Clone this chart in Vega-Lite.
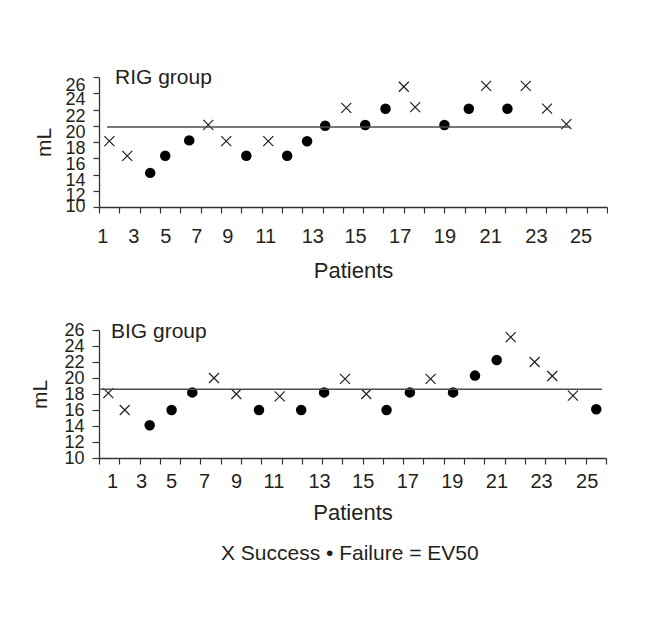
{
  "$schema": "https://vega.github.io/schema/vega-lite/v6.json",
  "padding": {"left": 29, "top": 67, "right": 0, "bottom": 0},
  "autosize": {"type": "pad"},
  "background": "white",
  "datasets": {
    "points": [
      {"group": "RIG", "pos": 0.51, "ml": 18.1, "outcome": "Success"},
      {"group": "RIG", "pos": 1.39, "ml": 16.3, "outcome": "Success"},
      {"group": "RIG", "pos": 2.52, "ml": 14.2, "outcome": "Failure"},
      {"group": "RIG", "pos": 3.26, "ml": 16.3, "outcome": "Failure"},
      {"group": "RIG", "pos": 4.44, "ml": 18.2, "outcome": "Failure"},
      {"group": "RIG", "pos": 5.38, "ml": 20.1, "outcome": "Success"},
      {"group": "RIG", "pos": 6.26, "ml": 18.1, "outcome": "Success"},
      {"group": "RIG", "pos": 7.25, "ml": 16.3, "outcome": "Failure"},
      {"group": "RIG", "pos": 8.33, "ml": 18.1, "outcome": "Success"},
      {"group": "RIG", "pos": 9.26, "ml": 16.3, "outcome": "Failure"},
      {"group": "RIG", "pos": 10.24, "ml": 18.1, "outcome": "Failure"},
      {"group": "RIG", "pos": 11.13, "ml": 20.0, "outcome": "Failure"},
      {"group": "RIG", "pos": 12.17, "ml": 22.2, "outcome": "Success"},
      {"group": "RIG", "pos": 13.1, "ml": 20.1, "outcome": "Failure"},
      {"group": "RIG", "pos": 14.1, "ml": 22.1, "outcome": "Failure"},
      {"group": "RIG", "pos": 15.0, "ml": 24.8, "outcome": "Success"},
      {"group": "RIG", "pos": 15.56, "ml": 22.3, "outcome": "Success"},
      {"group": "RIG", "pos": 17.0, "ml": 20.1, "outcome": "Failure"},
      {"group": "RIG", "pos": 18.2, "ml": 22.1, "outcome": "Failure"},
      {"group": "RIG", "pos": 19.05, "ml": 24.9, "outcome": "Success"},
      {"group": "RIG", "pos": 20.1, "ml": 22.1, "outcome": "Failure"},
      {"group": "RIG", "pos": 21.0, "ml": 24.9, "outcome": "Success"},
      {"group": "RIG", "pos": 22.05, "ml": 22.1, "outcome": "Success"},
      {"group": "RIG", "pos": 23.0, "ml": 20.2, "outcome": "Success"},
      {"group": "BIG", "pos": 0.46, "ml": 18.1, "outcome": "Success"},
      {"group": "BIG", "pos": 1.27, "ml": 16.0, "outcome": "Success"},
      {"group": "BIG", "pos": 2.5, "ml": 14.1, "outcome": "Failure"},
      {"group": "BIG", "pos": 3.58, "ml": 16.0, "outcome": "Failure"},
      {"group": "BIG", "pos": 4.6, "ml": 18.2, "outcome": "Failure"},
      {"group": "BIG", "pos": 5.67, "ml": 20.0, "outcome": "Success"},
      {"group": "BIG", "pos": 6.77, "ml": 18.0, "outcome": "Success"},
      {"group": "BIG", "pos": 7.89, "ml": 16.0, "outcome": "Failure"},
      {"group": "BIG", "pos": 8.91, "ml": 17.7, "outcome": "Success"},
      {"group": "BIG", "pos": 9.97, "ml": 16.0, "outcome": "Failure"},
      {"group": "BIG", "pos": 11.1, "ml": 18.2, "outcome": "Failure"},
      {"group": "BIG", "pos": 12.13, "ml": 19.9, "outcome": "Success"},
      {"group": "BIG", "pos": 13.18, "ml": 18.0, "outcome": "Success"},
      {"group": "BIG", "pos": 14.18, "ml": 16.0, "outcome": "Failure"},
      {"group": "BIG", "pos": 15.33, "ml": 18.2, "outcome": "Failure"},
      {"group": "BIG", "pos": 16.35, "ml": 19.9, "outcome": "Success"},
      {"group": "BIG", "pos": 17.46, "ml": 18.2, "outcome": "Failure"},
      {"group": "BIG", "pos": 18.54, "ml": 20.3, "outcome": "Failure"},
      {"group": "BIG", "pos": 19.61, "ml": 22.25, "outcome": "Failure"},
      {"group": "BIG", "pos": 20.3, "ml": 25.1, "outcome": "Success"},
      {"group": "BIG", "pos": 21.48, "ml": 22.0, "outcome": "Success"},
      {"group": "BIG", "pos": 22.35, "ml": 20.25, "outcome": "Success"},
      {"group": "BIG", "pos": 23.37, "ml": 17.8, "outcome": "Success"},
      {"group": "BIG", "pos": 24.52, "ml": 16.1, "outcome": "Failure"}
    ],
    "ev50": [
      {"group": "RIG", "ev50": 19.85, "start": 0.4, "end": 23.2},
      {"group": "BIG", "ev50": 18.6, "start": 0.0, "end": 24.8}
    ]
  },
  "title": {
    "text": "X Success • Failure =  EV50",
    "orient": "bottom",
    "anchor": "middle",
    "fontSize": 21,
    "fontWeight": "normal",
    "font": "Liberation Sans",
    "color": "#231f20",
    "offset": 20,
    "dx": 31
  },
  "spacing": 40,
  "vconcat": [
    {
      "title": {"text": "RIG group", "anchor": "start", "frame": "group", "orient": "top", "offset": 0, "baseline": "middle", "dx": 16, "dy": 23, "fontSize": 21, "fontWeight": "normal", "font": "Liberation Sans", "color": "#231f20"},
      "width": 508,
      "height": 130,
      "layer": [
        {
          "data": {"name": "points"},
          "transform": [{"filter": "datum.group === 'RIG' && datum.outcome === 'Success'"}],
          "mark": {"type": "point", "shape": "M-1,-1L1,1M-1,1L1,-1", "size": 100, "stroke": "#231f20", "strokeWidth": 1.2, "filled": false, "opacity": 1},
          "encoding": {
            "x": {"field": "pos", "type": "quantitative", "scale": {"domain": [0, 25], "nice": false, "zero": false},
                  "axis": {"orient": "bottom", "values": [0,1,2,3,4,5,6,7,8,9,10,11,12,13,14,15,16,17,18,19,20,21,22,23,24,25], "labels": false, "title": null, "tickSize": 6, "grid": false}},
            "y": {"field": "ml", "type": "quantitative", "scale": {"domain": [10, 26], "nice": false, "zero": false},
                  "axis": {"orient": "left", "values": [10,12,14,16,18,20,22,24,26], "labels": false, "title": null, "tickSize": 6, "grid": false}}
          }
        },
        {
          "data": {"name": "points"},
          "transform": [{"filter": "datum.group === 'RIG' && datum.outcome === 'Failure'"}],
          "mark": {"type": "circle", "size": 110, "color": "#000000", "opacity": 1},
          "encoding": {
            "x": {"field": "pos", "type": "quantitative", "axis": null},
            "y": {"field": "ml", "type": "quantitative", "axis": null}
          }
        },
        {
          "data": {"name": "ev50"},
          "transform": [{"filter": "datum.group === 'RIG'"}],
          "mark": {"type": "rule", "color": "#4d4d4d", "strokeWidth": 1.6},
          "encoding": {
            "x": {"field": "start", "type": "quantitative",
                  "axis": {"orient": "bottom", "values": [0.16,1.69,3.26,4.79,6.31,8.18,10.5,12.6,14.8,17,19.25,21.5,23.7],
                           "labelExpr": "2*indexof([0.16,1.69,3.26,4.79,6.31,8.18,10.5,12.6,14.8,17,19.25,21.5,23.7], datum.value)+1",
                           "ticks": false, "tickSize": 0, "domain": false, "grid": false, "labelPadding": 19, "labelFontSize": 20, "labelFlush": false, "labelOverlap": false,
                           "title": "Patients", "titleFontSize": 22, "titlePadding": 14}},
            "x2": {"field": "end"},
            "y": {"field": "ev50", "type": "quantitative",
                  "axis": {"orient": "left", "values": [10.1,11.4,13.3,15.2,17.2,19.2,21.1,23.2,24.9],
                           "labelExpr": "10+2*indexof([10.1,11.4,13.3,15.2,17.2,19.2,21.1,23.2,24.9], datum.value)",
                           "ticks": false, "tickSize": 0, "domain": false, "grid": false, "labelPadding": 14, "labelFontSize": 18, "labelOverlap": false,
                           "title": "mL", "titleFontSize": 21, "titlePadding": 10}}
          }
        }
      ],
      "resolve": {"axis": {"x": "independent", "y": "independent"}}
    },
    {
      "title": {"text": "BIG group", "anchor": "start", "frame": "group", "orient": "top", "offset": 0, "baseline": "middle", "dx": 12, "dy": 32, "fontSize": 21, "fontWeight": "normal", "font": "Liberation Sans", "color": "#231f20"},
      "width": 507,
      "height": 128,
      "layer": [
        {
          "data": {"name": "points"},
          "transform": [{"filter": "datum.group === 'BIG' && datum.outcome === 'Success'"}],
          "mark": {"type": "point", "shape": "M-1,-1L1,1M-1,1L1,-1", "size": 100, "stroke": "#231f20", "strokeWidth": 1.2, "filled": false, "opacity": 1},
          "encoding": {
            "x": {"field": "pos", "type": "quantitative", "scale": {"domain": [0, 25], "nice": false, "zero": false},
                  "axis": {"orient": "bottom", "values": [0,1,2,3,4,5,6,7,8,9,10,11,12,13,14,15,16,17,18,19,20,21,22,23,24,25], "labels": false, "title": null, "tickSize": 6, "grid": false}},
            "y": {"field": "ml", "type": "quantitative", "scale": {"domain": [10, 26], "nice": false, "zero": false},
                  "axis": {"orient": "left", "values": [10,12,14,16,18,20,22,24,26], "tickSize": 7, "grid": false, "labelPadding": 8, "labelFontSize": 18, "labelOverlap": false,
                           "title": "mL", "titleFontSize": 21, "titlePadding": 13}}
          }
        },
        {
          "data": {"name": "points"},
          "transform": [{"filter": "datum.group === 'BIG' && datum.outcome === 'Failure'"}],
          "mark": {"type": "circle", "size": 110, "color": "#000000", "opacity": 1},
          "encoding": {
            "x": {"field": "pos", "type": "quantitative", "axis": null},
            "y": {"field": "ml", "type": "quantitative", "axis": null}
          }
        },
        {
          "data": {"name": "ev50"},
          "transform": [{"filter": "datum.group === 'BIG'"}],
          "mark": {"type": "rule", "color": "#4d4d4d", "strokeWidth": 1.6},
          "encoding": {
            "x": {"field": "start", "type": "quantitative",
                  "axis": {"orient": "bottom", "values": [0.64,2.07,3.55,5.18,6.76,8.6,10.85,13,15.2,17.4,19.6,21.8,24.05],
                           "labelExpr": "2*indexof([0.64,2.07,3.55,5.18,6.76,8.6,10.85,13,15.2,17.4,19.6,21.8,24.05], datum.value)+1",
                           "ticks": false, "tickSize": 0, "domain": false, "grid": false, "labelPadding": 13, "labelFontSize": 20, "labelFlush": false, "labelOverlap": false,
                           "title": "Patients", "titleFontSize": 22, "titlePadding": 11}},
            "x2": {"field": "end"},
            "y": {"field": "ev50", "type": "quantitative", "axis": null}
          }
        }
      ],
      "resolve": {"axis": {"x": "independent", "y": "independent"}}
    }
  ],
  "config": {
    "view": {"stroke": null},
    "font": "Liberation Sans",
    "axis": {
      "labelFont": "Liberation Sans",
      "titleFont": "Liberation Sans",
      "labelColor": "#231f20",
      "titleColor": "#231f20",
      "titleFontWeight": "normal",
      "domainColor": "#333333",
      "tickColor": "#333333",
      "domainWidth": 1.3,
      "tickWidth": 1.2
    }
  }
}
